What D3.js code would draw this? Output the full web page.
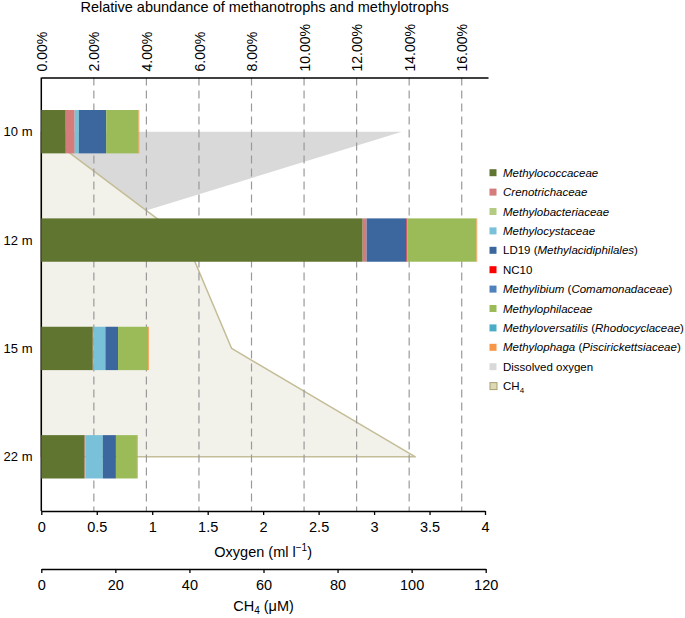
<!DOCTYPE html>
<html>
<head>
<meta charset="utf-8">
<script src="https://cdn.jsdelivr.net/npm/d3@7"></script>
<style>
  html, body { margin: 0; padding: 0; background: #fff; }
  svg { display: block; font-family: "Liberation Sans", Arial, Helvetica, sans-serif; }
</style>
</head>
<body>
<svg id="chart" width="685" height="618"></svg>
<script>
// ---------------- DATA ----------------
const depths = ["10 m", "12 m", "15 m", "22 m"];

const seriesNames = [
  "Methylococcaceae", "Crenotrichaceae", "Methylobacteriaceae", "Methylocystaceae",
  "LD19", "NC10", "Methylibium", "Methylophilaceae", "Methyloversatilis", "Methylophaga"
];
// relative abundance (%) per depth
const methylococcaceae    = [0.93, 12.23, 1.96, 1.65];
const crenotrichaceae     = [0.34, 0.15, 0.03, 0.03];
const methylobacteriaceae = [0.00, 0.00, 0.00, 0.00];
const methylocystaceae    = [0.16, 0.00, 0.45, 0.66];
const ld19                = [1.04, 1.52, 0.48, 0.47];
const nc10                = [0.00, 0.03, 0.00, 0.03];
const methylibium         = [0.00, 0.00, 0.00, 0.00];
const methylophilaceae    = [1.23, 2.63, 1.14, 0.80];
const methyloversatilis   = [0.00, 0.00, 0.00, 0.00];
const methylophaga        = [0.03, 0.03, 0.03, 0.03];

const oxygen = [3.25, 0.08, 0.0, 0.0];   // ml l-1
const ch4    = [0.0, 39.0, 51.4, 101.0]; // µM

const pctTicks = [0, 2, 4, 6, 8, 10, 12, 14, 16];
const oxygenTicks = [0, 0.5, 1, 1.5, 2, 2.5, 3, 3.5, 4];
const ch4Ticks = [0, 20, 40, 60, 80, 100, 120];

const colors = ["#607530", "#d47b7b", "#b3cc82", "#78c1d8", "#3b679e",
                "#ff0000", "#4f81bd", "#9bbb59", "#4bacc6", "#f79646"];
const oxygenColor = "#d9d9d9";
const ch4Fill = "#f2f1ea";
const ch4Stroke = "#c4bd97";

const legendItems = [
  [["Methylococcaceae", true]],
  [["Crenotrichaceae", true]],
  [["Methylobacteriaceae", true]],
  [["Methylocystaceae", true]],
  [["LD19 (", false], ["Methylacidiphilales", true], [")", false]],
  [["NC10", false]],
  [["Methylibium", true], [" (", false], ["Comamonadaceae", true], [")", false]],
  [["Methylophilaceae", true]],
  [["Methyloversatilis", true], [" (", false], ["Rhodocyclaceae", true], [")", false]],
  [["Methylophaga", true], [" (", false], ["Piscirickettsiaceae", true], [")", false]],
  [["Dissolved oxygen", false]],
];

// ---------------- SETUP ----------------
const svg = d3.select("#chart");
const plotLeft = 41.3, plotTop = 77.5, plotBottom = 511;

const xPct = d3.scaleLinear().domain([0, 17]).range([plotLeft, 488]);
const xO2 = d3.scaleLinear().domain([0, 4]).range([plotLeft, 485]);
const xCH4 = d3.scaleLinear().domain([0, 120]).range([plotLeft, 485.7]);
const y = d3.scaleBand().domain(depths).range([plotTop, plotBottom]).paddingInner(0.6).paddingOuter(0.3);
const yc = d => y(d) + y.bandwidth() / 2;

const seriesArrays = [methylococcaceae, crenotrichaceae, methylobacteriaceae, methylocystaceae,
  ld19, nc10, methylibium, methylophilaceae, methyloversatilis, methylophaga];

const rows = depths.map((d, i) => {
  const r = { depth: d };
  seriesNames.forEach((s, j) => r[s] = seriesArrays[j][i]);
  return r;
});
const stacked = d3.stack().keys(seriesNames)(rows);

const profile = depths.map((d, i) => ({ depth: d, o2: oxygen[i], ch4: ch4[i] }));

// ---------------- AREAS ----------------
const o2Area = d3.area()
  .y(d => yc(d.depth))
  .x0(xO2(0))
  .x1(d => xO2(d.o2));
svg.append("path").datum(profile)
  .attr("d", o2Area)
  .attr("fill", oxygenColor);

const ch4Area = d3.area()
  .y(d => yc(d.depth))
  .x0(xCH4(0))
  .x1(d => xCH4(d.ch4));
svg.append("path").datum(profile)
  .attr("d", ch4Area)
  .attr("fill", ch4Fill)
  .attr("stroke", ch4Stroke)
  .attr("stroke-width", 1.5)
  .attr("stroke-linejoin", "round");

// ---------------- GRIDLINES ----------------
svg.append("g").selectAll("line")
  .data(pctTicks.filter(t => t > 0))
  .join("line")
  .attr("x1", d => xPct(d)).attr("x2", d => xPct(d))
  .attr("y1", plotTop).attr("y2", plotBottom)
  .attr("stroke", "#9a9a9a")
  .attr("stroke-width", 1.2)
  .attr("stroke-dasharray", "8,5");

// ---------------- AXES ----------------
// top percent axis
const topAxis = svg.append("g").attr("transform", `translate(0,${plotTop})`)
  .call(d3.axisTop(xPct).tickValues(pctTicks).tickSize(0).tickSizeOuter(0)
    .tickFormat(d => d.toFixed(2) + "%"));
topAxis.select(".domain").attr("stroke", "#000").attr("stroke-width", 1.5);
topAxis.selectAll(".tick text")
  .attr("font-size", 14)
  .attr("fill", "#000")
  .attr("text-anchor", "start")
  .attr("x", 0).attr("y", 0).attr("dy", "0.36em")
  .attr("transform", "translate(0,-6) rotate(-90)");

svg.append("text")
  .attr("x", (xPct.range()[0] + xPct.range()[1]) / 2)
  .attr("y", 12)
  .attr("text-anchor", "middle")
  .attr("font-size", 14.5)
  .text("Relative abundance of methanotrophs and methylotrophs");

// left axis line
svg.append("line")
  .attr("x1", plotLeft).attr("x2", plotLeft)
  .attr("y1", plotTop).attr("y2", plotBottom)
  .attr("stroke", "#000").attr("stroke-width", 1.5);

// depth labels
svg.append("g").selectAll("text")
  .data(depths)
  .join("text")
  .attr("x", 32.5)
  .attr("y", d => yc(d))
  .attr("dy", "0.35em")
  .attr("text-anchor", "end")
  .attr("font-size", 13)
  .text(d => d);

// oxygen axis
const o2Axis = svg.append("g").attr("transform", `translate(0,${plotBottom})`)
  .call(d3.axisBottom(xO2).tickValues(oxygenTicks).tickSize(4).tickSizeOuter(0).tickPadding(7)
    .tickFormat(d3.format("")));
o2Axis.selectAll(".domain, .tick line").attr("stroke", "#000").attr("stroke-width", 1.3);
o2Axis.selectAll(".tick text").attr("font-size", 14.5).attr("fill", "#000");

const o2Title = svg.append("text")
  .attr("x", (xO2.range()[0] + xO2.range()[1]) / 2)
  .attr("y", 557)
  .attr("text-anchor", "middle")
  .attr("font-size", 14.5);
o2Title.append("tspan").text("Oxygen (ml l");
o2Title.append("tspan").attr("dy", -6).attr("font-size", 10).text("\u22121");
o2Title.append("tspan").attr("dy", 6).text(")");

// CH4 axis
const ch4Y = 569;
const chAxis = svg.append("g").attr("transform", `translate(0,${ch4Y})`)
  .call(d3.axisBottom(xCH4).tickValues(ch4Ticks).tickSize(4).tickSizeOuter(0).tickPadding(7));
chAxis.selectAll(".domain, .tick line").attr("stroke", "#000").attr("stroke-width", 1.3);
chAxis.selectAll(".tick text").attr("font-size", 14.5).attr("fill", "#000");

const chTitle = svg.append("text")
  .attr("x", (xCH4.range()[0] + xCH4.range()[1]) / 2)
  .attr("y", 611)
  .attr("text-anchor", "middle")
  .attr("font-size", 14.5);
chTitle.append("tspan").text("CH");
chTitle.append("tspan").attr("dy", 3).attr("font-size", 10).text("4");
chTitle.append("tspan").attr("dy", -3).text(" (\u03bcM)");

// ---------------- BARS ----------------
svg.append("g").selectAll("g")
  .data(stacked)
  .join("g")
  .attr("fill", (d, i) => colors[i])
  .selectAll("rect")
  .data(d => d)
  .join("rect")
  .attr("x", d => xPct(d[0]))
  .attr("width", d => Math.max(0, xPct(d[1]) - xPct(d[0])))
  .attr("y", d => y(d.data.depth))
  .attr("height", y.bandwidth());

// ---------------- LEGEND ----------------
const lgX = 489.5, lgY0 = 172.7, lgStep = 19.4;
const lg = svg.append("g");
const allLegend = legendItems.map((parts, i) => ({ parts, color: i < colors.length ? colors[i] : oxygenColor }));
allLegend.forEach((item, i) => {
  const yy = lgY0 + i * lgStep;
  lg.append("rect").attr("x", lgX).attr("y", yy - 3.5).attr("width", 7).attr("height", 7)
    .attr("fill", item.color);
  const t = lg.append("text").attr("x", lgX + 13.5).attr("y", yy).attr("dy", "0.35em")
    .attr("font-size", 11.5);
  item.parts.forEach(([s, it]) => t.append("tspan").attr("font-style", it ? "italic" : "normal").text(s));
});
// CH4 legend item
{
  const yy = lgY0 + legendItems.length * lgStep;
  lg.append("rect").attr("x", lgX + 0.5).attr("y", yy - 3.5).attr("width", 7).attr("height", 7)
    .attr("fill", "#ddd9b5").attr("stroke", "#a9a173").attr("stroke-width", 1);
  const t = lg.append("text").attr("x", lgX + 13.5).attr("y", yy).attr("dy", "0.35em")
    .attr("font-size", 11.5);
  t.append("tspan").text("CH");
  t.append("tspan").attr("dy", 3).attr("font-size", 8).text("4");
}
</script>
</body>
</html>
